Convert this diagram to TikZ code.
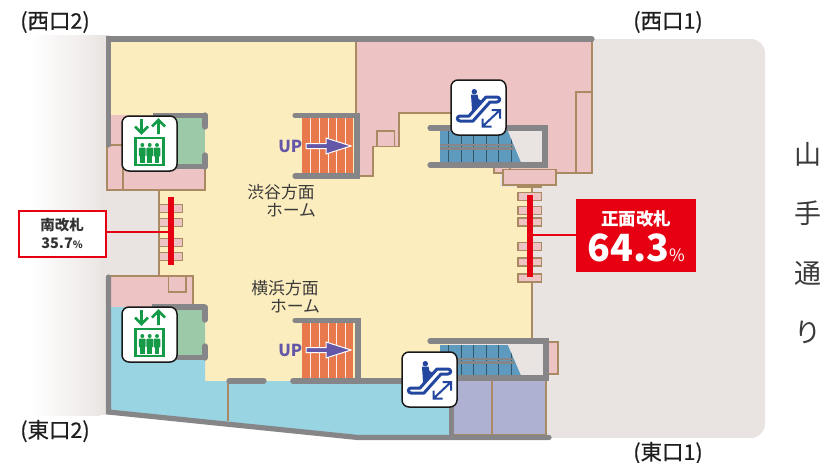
\documentclass[tikz,border=0pt]{standalone}
\usepackage{fontspec}
\setmainfont{Noto Sans CJK JP}
\newfontfamily\medfont[FakeBold=0.5]{Noto Sans CJK JP}
\definecolor{wallc}{HTML}{868587}
\definecolor{browne}{HTML}{A98A63}
\definecolor{pinkc}{HTML}{EEC3C4}
\definecolor{yelc}{HTML}{FCEDBF}
\definecolor{bluec}{HTML}{98D4E2}
\definecolor{greenr}{HTML}{9CC9A7}
\definecolor{groundc}{HTML}{E9E4E2}
\definecolor{purpc}{HTML}{AFB1D3}
\definecolor{orangec}{HTML}{E8794C}
\definecolor{escc}{HTML}{5D9ABD}
\definecolor{redc}{HTML}{E60012}
\definecolor{iconb}{HTML}{23479F}
\definecolor{icong}{HTML}{159A48}
\definecolor{upc}{HTML}{6557A7}
\definecolor{textc}{HTML}{3A3A3A}
\tikzset{
 wall/.style={draw=wallc,line width=5.2pt,line cap=round},
 wallb/.style={draw=wallc,line width=5.2pt,line cap=butt},
 edge/.style={draw=browne,line width=1.1pt},
 pinkbox/.style={edge,fill=pinkc},
 gatebox/.style={edge,fill=pinkc},
 bar/.style={draw=redc,line width=5.8pt},
 lead/.style={draw=redc,line width=1.5pt},
 exitlabel/.style={font=\medfont\fontsize{21.5}{23}\selectfont,text=black!88},
 platlabel/.style={font=\fontsize{16.8}{19}\selectfont,text=textc,inner sep=0pt},
 roadlabel/.style={font=\fontsize{27}{30}\selectfont,text=textc,inner sep=0pt},
 iconbox/.style={draw=black!90,line width=1.5pt,fill=white,rounded corners=7pt},
 uptext/.style={font=\fontsize{16.5}{18}\selectfont\bfseries,text=upc,inner sep=0pt},
}
\newcommand{\elevicon}[2]{%
 \begin{scope}[shift={(#1,#2)}]
  \draw[iconbox] (0,0) rectangle (55,55);
  \draw[icong,line width=2.7pt] (19.5,3)--(19.5,17) (13,10.5)--(19.5,17)--(26,10.5);
  \draw[icong,line width=2.7pt] (36.5,18)--(36.5,4) (30,10.5)--(36.5,4)--(43,10.5);
  \draw[icong,line width=2.5pt] (13.5,22) rectangle (41.5,49);
  \foreach \px in {20.3,27.7,35}{
   \fill[icong] (\px,29) circle (2);
   \fill[icong,rounded corners=1pt] (\px-3.4,31.5) rectangle (\px+3.4,40.5);
   \fill[icong] (\px-2.4,39) rectangle (\px+2.4,47);
  }
 \end{scope}}
\newcommand{\escicon}[2]{%
 \begin{scope}[shift={(#1,#2)}]
  \draw[iconbox] (0,0) rectangle (55,55);
  \fill[iconb] (23.3,11.7) circle (2.7);
  \fill[iconb] (20,14.5) -- (26.5,14.5) -- (27.5,19) -- (31,21) -- (27,28) -- (21,30) -- cycle;
  \draw[iconb,line width=3pt,line join=round,fill=white] (9,36) -- (18,36) -- (35,17) -- (46,17) .. controls (49.5,17) and (49.5,22) .. (46,22) -- (39,22) -- (22,41) -- (9,41) .. controls (5.5,41) and (5.5,36) .. (9,36) -- cycle;
  \draw[iconb,line width=2pt] (31.5,46.5)--(49,30) (31.5,38.5)--(31.5,46.5)--(40.5,46.5) (40.5,30)--(49,30)--(49,38.5);
 \end{scope}}
\newcommand{\stairs}[2]{%
 \begin{scope}[shift={(#1,#2)}]
  \fill[orangec] (0,0) rectangle (51,56);
  \foreach \sx in {8,17,26,34.5,43.5}{\draw[white!85!orangec,line width=1pt] (\sx,0)--(\sx,56);}
 \end{scope}}
\newcommand{\escbelt}[3]{%
 \begin{scope}[shift={(#1,#2)}]
  \fill[escc] (10,0) -- (78,0) -- (91,#3) -- (10,#3) -- cycle;
  \foreach \ex in {18,31,43,56,68,81}{\draw[black!45!escc,line width=.9pt] (\ex,0)--(\ex,#3);}
  \fill[groundc] (78,0) -- (115,0) -- (115,#3) -- (91,#3) -- cycle;
  \fill[wallc] (10,12.5) rectangle (83,14.5);
  \fill[wallc] (10,16) rectangle (84,18.5);
 \end{scope}}
\newcommand{\uparr}[2]{%
 \draw[white,line width=1pt,fill=upc,line join=miter] (#1+5,#2-2.5) -- (#1+25,#2-2.5) -- (#1+25,#2-8) -- (#1+50,#2) -- (#1+25,#2+8) -- (#1+25,#2+2.5) -- (#1+5,#2+2.5) -- cycle;}
\begin{document}
\begin{tikzpicture}[x=1pt,y=-1pt]
\useasboundingbox (0,0) rectangle (827,463);
% ground
\fill[groundc,rounded corners=14pt] (100,39) -- (765,39) -- (765,438) -- (100,438) -- cycle;
\shade[left color=white,right color=groundc,shading angle=90] (30,35) rectangle (107,415);
\fill[groundc] (100,35) rectangle (110,415);
\fill[white] (100,415) rectangle (358,463);
\fill[white] (100,0) rectangle (592,35);
% floors
\fill[yelc] (111,41) -- (356,41) -- (356,176) -- (373,176) -- (373,146) -- (399,146) -- (399,113) -- (500,113) -- (500,187) -- (532,187) -- (532,341) -- (450,341) -- (450,382) -- (205,382) -- (205,307) -- (193,307) -- (193,276) -- (159,276) -- (159,190) -- (205,190) -- (205,115) -- (111,115) -- cycle;
\fill[pinkc] (356,41) -- (592,41) -- (592,173) -- (494,173) -- (494,128) -- (451,128) -- (451,113) -- (399,113) -- (399,146) -- (373,146) -- (373,176) -- (356,176) -- cycle;
\fill[pinkc] (111,115) rectangle (175,168);
\fill[greenr] (170,115) rectangle (205,167);
\fill[bluec] (110,307) -- (205,307) -- (205,381) -- (452,381) -- (452,437) -- (358,437) -- (110,411) -- cycle;
\fill[pinkc] (110,276) rectangle (193,307);
\fill[greenr] (170,307) rectangle (205,357);
% brown outlines
\draw[edge] (356,41) -- (356,176) -- (373,176) -- (373,146.5) -- (399,146.5) -- (399,113) -- (455,113);
\draw[edge] (592,41) -- (592,173) -- (556,173);
\draw[edge,fill=pinkc] (377,131) rectangle (394.5,146.5);
\draw[pinkbox] (576,92) rectangle (592,173);
\draw[edge] (159,190) -- (159,276);
\draw[edge] (110,276) -- (193,276) -- (193,307);
\draw[edge] (168.5,276) -- (168.5,292) -- (186,292) -- (186,276);
\draw[pinkbox] (107,145) rectangle (123,190);
\draw[pinkbox] (123,168) rectangle (205,190);
\draw[edge] (532,187) -- (532,341);
\draw[edge] (228,381) -- (228,421);
% stairs and escalators
\stairs{302}{118}
\stairs{302}{323}
\escbelt{430}{131}{31}
\escbelt{430}{345}{30}
% gates
\draw[gatebox] (494,165) rectangle (510,173);
\draw[gatebox] (518,182) rectangle (541,187);
\draw[pinkbox] (503,169.5) rectangle (556,185);
\foreach \gy in {204.5,218.5,238.5,252.5}{\draw[gatebox] (159,\gy) rectangle +(23.5,8);}
\foreach \gy in {192.5,206.5,218,242.5,258,274}{\draw[gatebox] (518,\gy) rectangle +(23.5,8);}
\draw[pinkbox] (546,342) rectangle (558,374);
\draw[edge,fill=purpc] (452,380) rectangle (546,435);
\draw[edge] (492,380) -- (492,435);
% walls
\draw[wall] (108.5,145) -- (108.5,39) -- (592,39);
\draw[wall] (108.5,277) -- (108.5,412) -- (358,437.5) -- (549,437.5);
\draw[wall] (295,115.5) -- (357,115.5) -- (357,176) -- (295,176);
\draw[wall] (295,320.5) -- (358,320.5) -- (358,381) -- (293,381);
\draw[wall] (293,381) -- (405,381);
\draw[wall] (229,381) -- (264,381);
\draw[wall] (430,128) -- (545,128) -- (545,165) -- (430,165);
\draw[wall] (430,341) -- (546,341) -- (546,378) -- (510,378);
\draw[wallb] (452,378) -- (546,378);
\draw[wallb] (451.5,378) -- (451.5,436);
% lift wells
\draw[wallb] (153,115.5) -- (205,115.5);
\draw[wall] (205,115) -- (205,127);
\draw[wallb] (170,166.5) -- (205,166.5);
\draw[wall] (205,155) -- (205,167);
\draw[wallb] (152,307) -- (205,307);
\draw[wall] (205,307) -- (205,320);
\draw[wallb] (170,357.5) -- (205,357.5);
\draw[wall] (205,346) -- (205,358);
% icons
\elevicon{122}{116}
\elevicon{122}{307}
\escicon{451}{80}
\escicon{402}{352}
% UP
\node[uptext,anchor=east] (upa) at (302.5,146) {UP};
\node[uptext,anchor=east] (upb) at (302.5,350) {UP};
\uparr{301}{146}
\uparr{301}{350}
% labels
\node[platlabel] (shibuya) at (281,192) {渋谷方面};
\node[platlabel] (shibuyah) at (291,210) {ホーム};
\node[platlabel] (yokohama) at (285,288) {横浜方面};
\node[platlabel] (yokohamah) at (295,306) {ホーム};
\node[exitlabel] (w2) at (55,22) {(西口2)};
\node[exitlabel] (w1) at (668,22) {(西口1)};
\node[exitlabel] (e2) at (55,431) {(東口2)};
\node[exitlabel] (e1) at (668,453) {(東口1)};
\node[roadlabel] (r1) at (808,154) {山};
\node[roadlabel] (r2) at (808,213) {手};
\node[roadlabel] (r3) at (808,273) {通};
\node[roadlabel] (r4) at (808,332) {り};
% ticket gates
\draw[bar] (171,197) -- (171,265);
\draw[bar] (530,195) -- (530,277);
\coordinate (southbar) at (171,232);
\coordinate (frontbar) at (530,235);
\node[draw=redc,line width=1.6pt,fill=white,minimum width=87pt,minimum height=46pt,inner sep=0pt,anchor=north west] (south) at (18,210) {};
\node[inner sep=0pt,font=\fontsize{14.5}{16}\selectfont\bfseries,text=black!80] (southname) at (62,225) {南改札};
\node[inner sep=0pt,font=\fontsize{14.5}{16}\selectfont\bfseries,text=black!80] (southpct) at (62,243) {35.7{\fontsize{10}{10}\selectfont\%}};
\node[fill=redc,minimum width=120pt,minimum height=73pt,inner sep=0pt,anchor=north west] (front) at (576,199) {};
\node[text=white,inner sep=0pt,font=\fontsize{17.5}{20}\selectfont\bfseries] (frontname) at (636,219) {正面改札};
\node[text=white,inner sep=0pt,font=\fontsize{37.5}{40}\selectfont\bfseries] (frontpct) at (636,248) {64.3{\mdseries\fontsize{17}{17}\selectfont\%}};
\draw[lead] (south.east |- southbar) -- (southbar);
\draw[lead] (front.west |- frontbar) -- (frontbar);
\end{tikzpicture}
\end{document}
